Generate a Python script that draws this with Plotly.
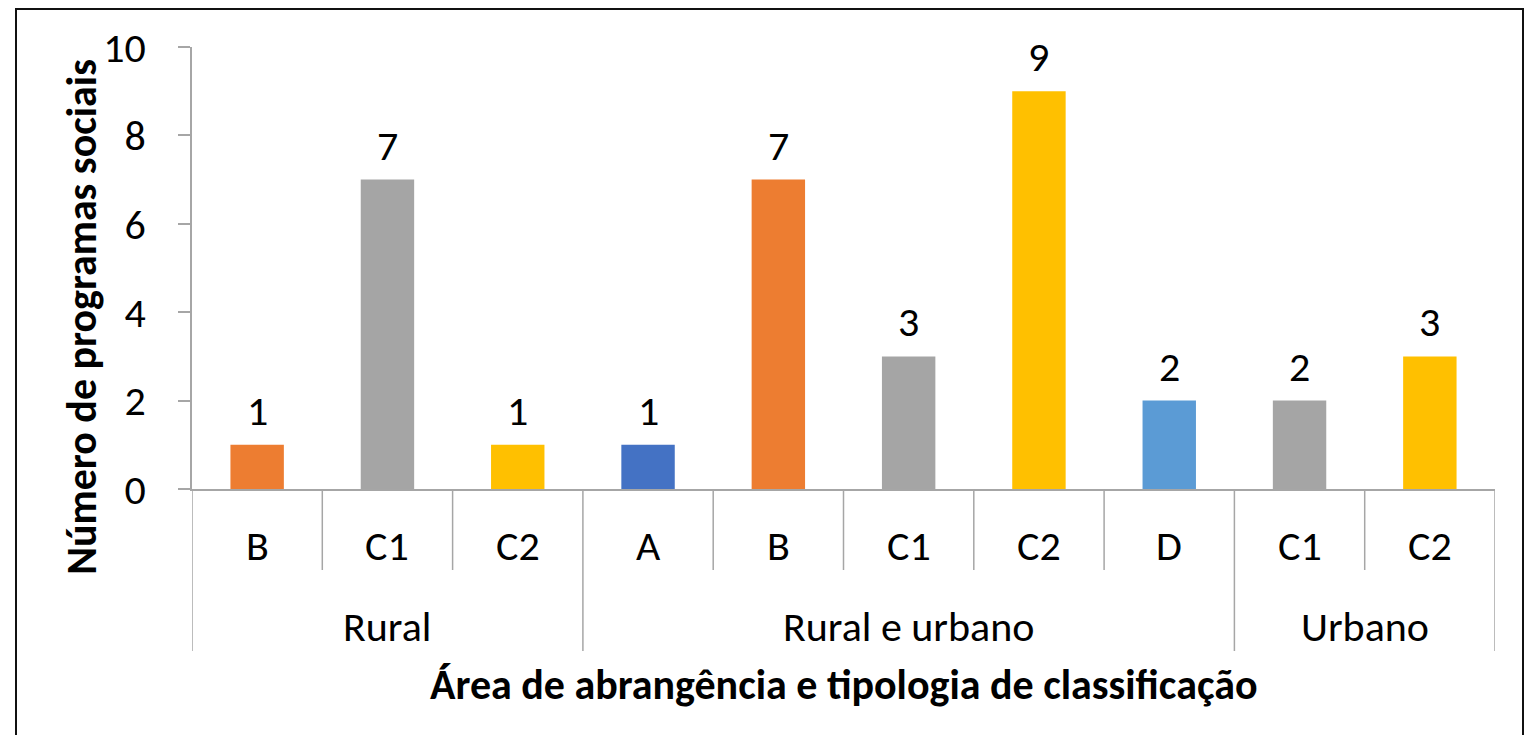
import plotly.graph_objects as go

# Data
categories = ["B", "C1", "C2", "A", "B", "C1", "C2", "D", "C1", "C2"]
groups = ["Rural", "Rural", "Rural",
          "Rural e urbano", "Rural e urbano", "Rural e urbano", "Rural e urbano", "Rural e urbano",
          "Urbano", "Urbano"]
values = [1, 7, 1, 1, 7, 3, 9, 2, 2, 3]
bar_colors = ["#ED7D31", "#A5A5A5", "#FFC000", "#4472C4", "#ED7D31",
              "#A5A5A5", "#FFC000", "#5B9BD5", "#A5A5A5", "#FFC000"]
y_ticks = [0, 2, 4, 6, 8, 10]
x_title = "Área de abrangência e tipologia de classificação"
y_title = "Número de programas sociais"

FONT = "Carlito, Calibri, Lato, sans-serif"
FS = 42
AX = "#A6A6A6"
xs = list(range(len(categories)))

fig = go.Figure()
fig.add_trace(go.Bar(x=xs, y=values, marker=dict(color=bar_colors, line_width=0),
                     width=0.41, hoverinfo="skip"))

ann = []
shapes = []
# data labels
for x, v in zip(xs, values):
    ann.append(dict(x=x, y=v, xref="x", yref="y", text=str(v), showarrow=False,
                    yanchor="bottom", yshift=7, font=dict(size=FS, color="#000", family=FONT)))
# category labels
for x, c in zip(xs, categories):
    ann.append(dict(x=x, y=-0.127, xref="x", yref="paper", text=c, showarrow=False,
                    yanchor="middle", font=dict(size=FS, color="#000", family=FONT)))
# group labels and separators
starts = [0]
for i in range(1, len(groups)):
    if groups[i] != groups[i - 1]:
        starts.append(i)
ends = starts[1:] + [len(groups)]
for s, e in zip(starts, ends):
    ann.append(dict(x=(s + e - 1) / 2, y=-0.31, xref="x", yref="paper", text=groups[s],
                    showarrow=False, yanchor="middle", font=dict(size=FS, color="#000", family=FONT)))
for b in range(len(groups) + 1):
    deep = b in starts or b == len(groups)
    shapes.append(dict(type="line", xref="x", yref="paper", x0=b - 0.5, x1=b - 0.5,
                       y0=0, y1=-0.3665 if deep else -0.1833,
                       line=dict(color=AX, width=1.5)))

# axis titles
ann.append(dict(x=0.5, y=-0.443, xref="paper", yref="paper", text="<b>" + x_title + "</b>",
                showarrow=False, yanchor="middle", font=dict(size=FS, color="#000", family=FONT)))
ann.append(dict(x=-0.0844, y=0.39, xref="paper", yref="paper", text="<b>" + y_title + "</b>",
                showarrow=False, textangle=-90, xanchor="center", yanchor="middle",
                font=dict(size=FS, color="#000", family=FONT)))

# chart border
shapes.append(dict(type="rect", xref="paper", yref="paper",
                   x0=(16 - 192) / 1303, x1=(1523 - 192) / 1303,
                   y0=(489 - 760) / 442, y1=(489 - 9) / 442,
                   line=dict(color="#111", width=2), layer="below"))

fig.update_layout(
    width=1526, height=727,
    margin=dict(l=184, r=39, t=39, b=246, autoexpand=False),
    paper_bgcolor="white", plot_bgcolor="white",
    showlegend=False,
    xaxis=dict(range=[-0.5, len(categories) - 0.5], showticklabels=False, ticks="",
               showgrid=False, zeroline=False, showline=True, linecolor=AX, linewidth=1.5),
    yaxis=dict(range=[0, 10], tickvals=y_ticks, ticks="outside", ticklen=12, tickcolor=AX,
               tickwidth=1.5, showline=True, linecolor=AX, linewidth=1.5, showgrid=False,
               zeroline=False, ticklabelstandoff=24,
               tickfont=dict(size=FS, color="#000", family=FONT)),
    annotations=ann, shapes=shapes,
)
fig.write_html("out.html")
